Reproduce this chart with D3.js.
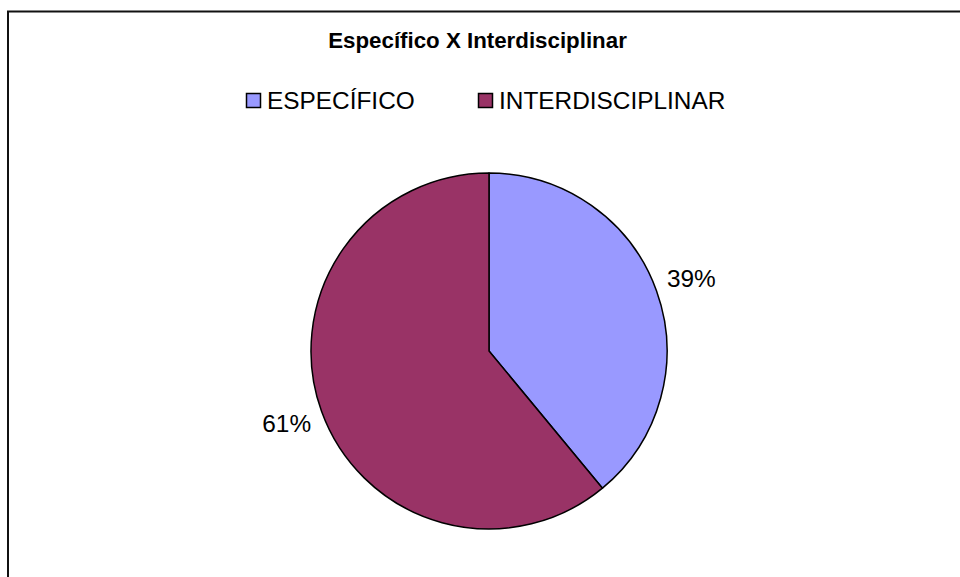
<!DOCTYPE html>
<html>
<head>
<meta charset="utf-8">
<script src="https://cdn.jsdelivr.net/npm/d3@7"></script>
<style>
    body { margin: 0; background: #fff; }
    svg { display: block; font-family: "Liberation Sans", Arial, sans-serif; }
</style>
</head>
<body>
<script>
(function(){

//chart data
var categories = ["ESPECÍFICO", "INTERDISCIPLINAR"];
var values = [39, 61];
var colors = ["#9999FF", "#993366"];
var chartTitle = "Específico X Interdisciplinar";

function setChart(){
    var width = 960,
        height = 577;

    var svg = d3.select("body")
        .append("svg")
        .attr("width", width)
        .attr("height", height);

    //frame (only top and left edges are visible in the crop)
    svg.append("path")
        .attr("d", "M8,600 L8,11.5 L970,11.5")
        .attr("fill", "none")
        .attr("stroke", "#111")
        .attr("stroke-width", 2);

    //title
    svg.append("text")
        .attr("x", 477.5)
        .attr("y", 48)
        .attr("text-anchor", "middle")
        .style("font-weight", "bold")
        .style("font-size", "22.3px")
        .text(chartTitle);

    //legend
    var legendX = [246, 478];
    var legend = svg.selectAll(".legend")
        .data(categories)
        .enter()
        .append("g")
        .attr("class", "legend")
        .attr("transform", function(d, i){ return "translate(" + legendX[i] + ",0)"; });

    legend.append("rect")
        .attr("x", 0.5)
        .attr("y", 93.5)
        .attr("width", 14)
        .attr("height", 14)
        .attr("fill", function(d, i){ return colors[i]; })
        .attr("stroke", "#000")
        .attr("stroke-width", 1.5);

    legend.append("text")
        .attr("x", 21)
        .attr("y", 109)
        .style("font-size", "24.4px")
        .text(function(d){ return d; });

    //pie
    var cx = 489, cy = 351, radius = 178;

    var pie = d3.pie()
        .sort(null)
        .value(function(d){ return d; });

    var arc = d3.arc()
        .innerRadius(0)
        .outerRadius(radius);

    var labelArc = d3.arc()
        .innerRadius(215)
        .outerRadius(215);

    var g = svg.append("g")
        .attr("transform", "translate(" + cx + "," + cy + ")");

    var arcs = pie(values);

    g.selectAll(".slice")
        .data(arcs)
        .enter()
        .append("path")
        .attr("class", "slice")
        .attr("d", arc)
        .attr("fill", function(d, i){ return colors[i]; })
        .attr("stroke", "#000")
        .attr("stroke-width", 1.5)
        .attr("stroke-linejoin", "round");

    var total = d3.sum(values);
    g.selectAll(".pct")
        .data(arcs)
        .enter()
        .append("text")
        .attr("class", "pct")
        .attr("text-anchor", "middle")
        .attr("x", function(d){ return labelArc.centroid(d)[0]; })
        .attr("y", function(d){ return labelArc.centroid(d)[1] + 8.5; })
        .style("font-size", "24.4px")
        .text(function(d){ return Math.round(d.value / total * 100) + "%"; });
}

setChart();
})();
</script>
</body>
</html>
